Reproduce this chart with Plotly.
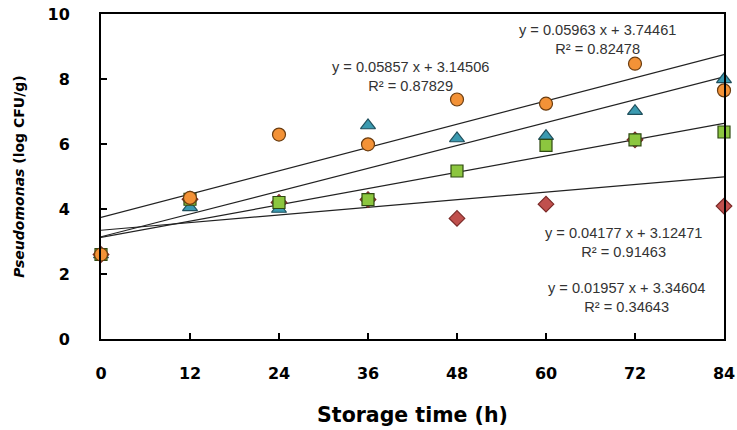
import plotly.graph_objects as go

time_h = [0, 12, 24, 36, 48, 60, 72, 84]
orange_circle = [2.60, 4.34, 6.29, 5.99, 7.37, 7.24, 8.47, 7.65]
blue_triangle = [2.60, 4.05, 4.00, 6.57, 6.17, 6.24, 7.01, 7.99]
green_square = [2.60, 4.30, 4.20, 4.29, 5.17, 5.96, 6.13, 6.37]
red_diamond = [2.60, 4.30, 4.20, 4.29, 3.71, 4.15, 6.13, 4.09]

fit_slopes = [0.01957, 0.05857, 0.04177, 0.05963]
fit_intercepts = [3.34604, 3.14506, 3.12471, 3.74461]
fit_r2 = ["0.34643", "0.87829", "0.91463", "0.82478"]
label_x = [70.9, 41.7, 70.4, 67.0]
label_y = [1.27, 8.08, 2.98, 9.23]

x_ticks = [0, 12, 24, 36, 48, 60, 72, 84]
y_ticks = [0, 2, 4, 6, 8, 10]

fig = go.Figure()

line_x = [0, 84]
for s, b in zip(fit_slopes, fit_intercepts):
    fig.add_trace(go.Scatter(x=line_x, y=[s * xx + b for xx in line_x], mode="lines",
                             line=dict(color="#222222", width=1.2), showlegend=False,
                             hoverinfo="skip"))

series = [
    (red_diamond, "diamond", "#C0504D", "#7a2a28", 12),
    (blue_triangle, "triangle-up", "#3B9AB0", "#1f4f5c", 13),
    (green_square, "square", "#8CC63F", "#2f4a12", 12),
    (orange_circle, "circle", "#F39237", "#6b3d10", 13),
]
for vals, sym, col, edge, size in series:
    fig.add_trace(go.Scatter(x=time_h, y=vals, mode="markers", showlegend=False,
                             marker=dict(symbol=sym, color=col, size=size,
                                         line=dict(color=edge, width=1.2)),
                             cliponaxis=False))

for s, b, r2, lx, ly in zip(fit_slopes, fit_intercepts, fit_r2, label_x, label_y):
    fig.add_annotation(x=lx, y=ly, xref="x", yref="y", showarrow=False,
                       text=f"y = {s:.5f} x + {b:.5f}<br>R² = {r2}",
                       font=dict(family="Liberation Sans, Arial", size=14.6, color="#333333"),
                       align="center")

fig.update_layout(
    width=737, height=430,
    margin=dict(l=101, r=13, t=14, b=91),
    plot_bgcolor="white", paper_bgcolor="white",
    font=dict(family="DejaVu Sans", color="black"),
)
fig.update_xaxes(range=[0, 84], tickvals=x_ticks, ticks="inside", ticklen=6, tickwidth=2,
                 tickcolor="black", showline=True, linecolor="black", linewidth=2,
                 mirror=True, showgrid=False, zeroline=False, automargin=False,
                 tickfont=dict(family="DejaVu Sans", size=16, color="black", weight="bold"),
                 ticklabelstandoff=19,
                 title=dict(text="<b>Storage time (h)</b>", standoff=25,
                            font=dict(family="DejaVu Sans", size=20.5, color="black")))
fig.update_yaxes(range=[0, 10], tickvals=y_ticks, ticks="inside", ticklen=6, tickwidth=2,
                 tickcolor="black", showline=True, linecolor="black", linewidth=2,
                 mirror=True, showgrid=False, zeroline=False, automargin=False,
                 tickfont=dict(family="DejaVu Sans", size=16, color="black", weight="bold"),
                 ticklabelstandoff=26,
                 title=dict(text="<b><i>Pseudomonas</i> (log CFU/g)</b>", standoff=20,
                            font=dict(family="DejaVu Sans", size=14, color="black")))

fig.write_html("out.html")
